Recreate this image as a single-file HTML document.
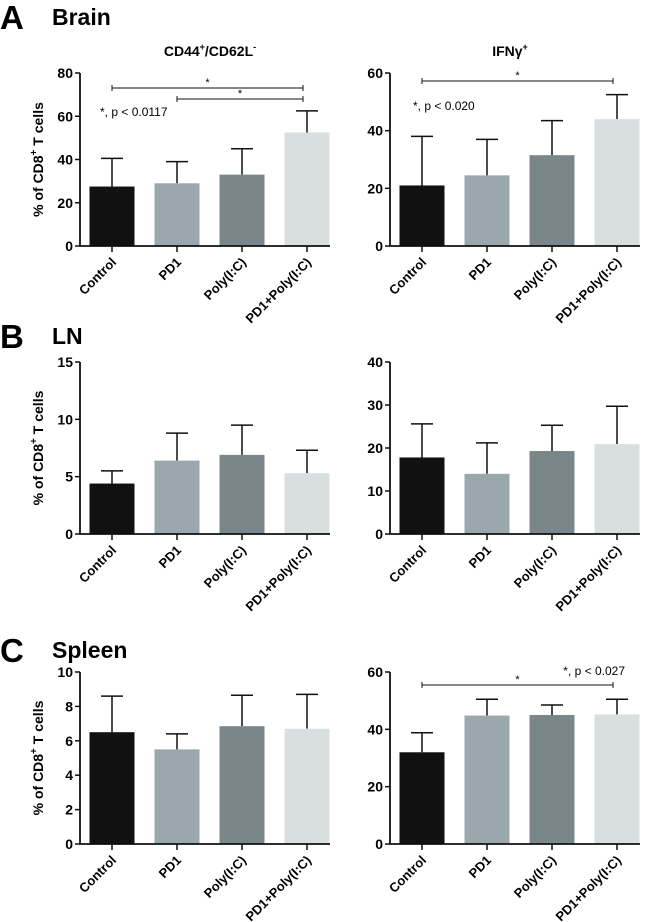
<!DOCTYPE html>
<html><head><meta charset="utf-8">
<style>
html,body{margin:0;padding:0;background:#fff;}
svg{display:block;font-family:"Liberation Sans",Arial,sans-serif;}
</style></head>
<body>
<svg id="fig" width="650" height="922" viewBox="0 0 650 922" xmlns="http://www.w3.org/2000/svg">
<text x="0" y="29" font-size="33" font-weight="bold">A</text>
<text x="52" y="25" font-size="23" font-weight="bold">Brain</text>
<text x="0" y="348" font-size="33" font-weight="bold">B</text>
<text x="52" y="344" font-size="23" font-weight="bold">LN</text>
<text x="0" y="662" font-size="33" font-weight="bold">C</text>
<text x="52" y="658" font-size="23" font-weight="bold">Spleen</text>
<text x="210" y="56" font-size="14" font-weight="bold" text-anchor="middle">CD44<tspan font-size="9" dy="-6">+</tspan><tspan dy="6">/CD62L</tspan><tspan font-size="9" dy="-6">-</tspan></text>
<text x="510" y="56" font-size="14" font-weight="bold" text-anchor="middle">IFNγ<tspan font-size="9" dy="-6">+</tspan></text>
<g id="charts"></g>
</svg>
<script>
const categories = ["Control","PD1","Poly(I:C)","PD1+Poly(I:C)"];
const colors = ["#111111","#9aa7ad","#79878a","#d9dfdf"];
const aLeftMeans = [27.5,29,33,52.5];
const aLeftErr = [13,10,12,10];
const aLeftTicks = [0,20,40,60,80];
const aRightMeans = [21,24.5,31.5,44];
const aRightErr = [17,12.5,12,8.5];
const aRightTicks = [0,20,40,60];
const bLeftMeans = [4.4,6.4,6.9,5.3];
const bLeftErr = [1.1,2.4,2.6,2.0];
const bLeftTicks = [0,5,10,15];
const bRightMeans = [17.8,14,19.3,20.9];
const bRightErr = [7.8,7.2,6,8.8];
const bRightTicks = [0,10,20,30,40];
const cLeftMeans = [6.5,5.5,6.85,6.7];
const cLeftErr = [2.1,0.9,1.8,2.0];
const cLeftTicks = [0,2,4,6,8,10];
const cRightMeans = [32,44.8,45,45.2];
const cRightErr = [6.8,5.7,3.5,5.3];
const cRightTicks = [0,20,40,60];

const NS="http://www.w3.org/2000/svg";
const root=document.getElementById('charts');
function mk(tag,attrs,parent){const e=document.createElementNS(NS,tag);for(const k in attrs)e.setAttribute(k,attrs[k]);(parent||root).appendChild(e);return e;}

function chart(name,axisX,y0,yTop,means,errs,ticks,showYTitle,sigs,note){
  const g=mk('g',{});
  
  
  const max=ticks[ticks.length-1];
  const ys=v=>y0-(v/max)*(y0-yTop);
  const firstC=axisX+32, pitch=65, bw=45;
  const xs=i=>firstC+i*pitch;
  means.forEach((m,i)=>{
    const top=ys(m+errs[i]);
    const eb=mk('path',{d:`M${xs(i)} ${ys(m)} V${top} M${xs(i)-11} ${top} H${xs(i)+11}`,stroke:'#111','stroke-width':1.5,fill:'none'},g);
    
    
    const b=mk('rect',{x:xs(i)-bw/2,y:ys(m),width:bw,height:y0-ys(m),fill:colors[i]},g);
    
    
  });
  const ax=mk('path',{d:`M${axisX} ${yTop} V${y0} H${axisX+250}`,stroke:'#111','stroke-width':1.8,fill:'none'},g);
  
  
  ticks.forEach(t=>{
    mk('line',{x1:axisX-5,x2:axisX,y1:ys(t),y2:ys(t),stroke:'#111','stroke-width':1.5},g);
    const tl=mk('text',{x:axisX-7,y:ys(t)+5,'font-size':14,'font-weight':'bold','text-anchor':'end'},g);
    tl.textContent=t;
    
    
  });
  categories.forEach((c,i)=>{
    mk('line',{x1:xs(i),x2:xs(i),y1:y0,y2:y0+6,stroke:'#111','stroke-width':1.5},g);
    const cl=mk('text',{x:xs(i)+5,y:y0+17,'font-size':13,'font-weight':'bold','text-anchor':'end',transform:`rotate(-45 ${xs(i)+5} ${y0+17})`},g);
    cl.textContent=c;
    
    
  });
  if(showYTitle){
    const cy=(y0+yTop)/2;
    const t=mk('text',{x:43,y:cy,'font-size':14,'font-weight':'bold','text-anchor':'middle',transform:`rotate(-90 43 ${cy})`},g);
    t.innerHTML='% of CD8<tspan font-size="10" dy="-6">+</tspan><tspan dy="6"> T cells</tspan>';
    
    
  }
  (sigs||[]).forEach(s=>{
    const x1=xs(s[0]), x2=xs(s[1])-4;
    const l=mk('path',{d:`M${x1} ${s[2]-3} V${s[2]+3} M${x1} ${s[2]} H${x2} M${x2} ${s[2]-3} V${s[2]+3}`,stroke:'#111','stroke-width':1,fill:'none'},g);
    
    
    const st=mk('text',{x:(x1+x2)/2,y:s[2]-2,'font-size':11,'text-anchor':'middle'},g);
    st.textContent='*';
    
    
  });
  if(note){
    const n=mk('text',{x:note[0],y:note[1],'font-size':12,'text-anchor':note[3]||'start'},g);
    n.textContent=note[2];
    
    
  }
}
chart('chart-brain-cd44',80,246,73,aLeftMeans,aLeftErr,aLeftTicks,true,[[0,3,88],[1,3,99]],[100,116,'*, p < 0.0117']);
chart('chart-brain-ifng',390,246,73,aRightMeans,aRightErr,aRightTicks,false,[[0,3,81]],[413,110,'*, p < 0.020']);
chart('chart-ln-cd44',80,534,362,bLeftMeans,bLeftErr,bLeftTicks,true,[],null);
chart('chart-ln-ifng',390,534,362,bRightMeans,bRightErr,bRightTicks,false,[],null);
chart('chart-spleen-cd44',80,844,672,cLeftMeans,cLeftErr,cLeftTicks,true,[],null);
chart('chart-spleen-ifng',390,844,672,cRightMeans,cRightErr,cRightTicks,false,[[0,3,685]],[625,675,'*, p < 0.027','end']);
</script>
</body></html>
